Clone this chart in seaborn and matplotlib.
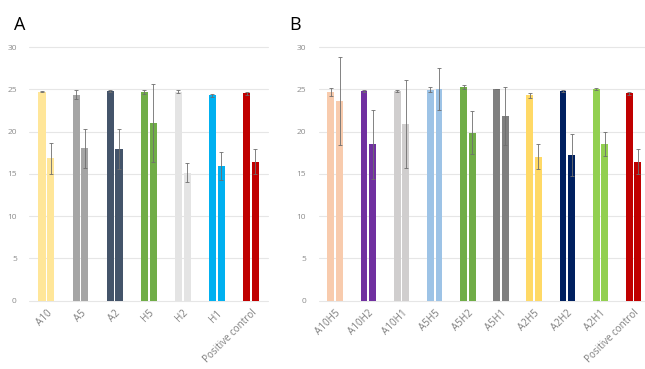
import numpy as np
import pandas as pd
import matplotlib
matplotlib.use("Agg")
import matplotlib.pyplot as plt
import seaborn as sns

# ---- data (two bars per group, mean +/- sd) ----
groups_a = ["A10", "A5", "A2", "H5", "H2", "H1", "Positive control"]
first_a = [24.75, 24.4, 24.85, 24.7, 24.75, 24.3, 24.55]
first_a_err = [0.1, 0.5, 0.1, 0.25, 0.15, 0.2, 0.15]
second_a = [16.85, 18.05, 17.95, 21.0, 15.15, 15.95, 16.45]
second_a_err = [1.85, 2.3, 2.4, 4.6, 1.1, 1.7, 1.5]
colors_a = ["#FFE699", "#A5A5A5", "#44546A", "#70AD47", "#E4E4E4", "#00B0F0", "#C00000"]

groups_b = ["A10H5", "A10H2", "A10H1", "A5H5", "A5H2", "A5H1", "A2H5", "A2H2", "A2H1",
            "Positive control"]
first_b = [24.7, 24.8, 24.8, 24.95, 25.25, 25.05, 24.3, 24.8, 25.05, 24.55]
first_b_err = [0.45, 0.1, 0.15, 0.3, 0.25, 0.05, 0.3, 0.15, 0.15, 0.15]
second_b = [23.65, 18.5, 20.95, 25.05, 19.9, 21.85, 17.05, 17.25, 18.55, 16.45]
second_b_err = [5.2, 4.1, 5.2, 2.45, 2.5, 3.4, 1.45, 2.45, 1.4, 1.5]
colors_b = ["#F8CBAD", "#7030A0", "#D0CECE", "#9DC3E6", "#70AD47", "#7F7F7F", "#FFD966",
            "#002060", "#92D050", "#C00000"]

sns.set_theme(style="white")
plt.rcParams["font.family"] = ["Open Sans", "DejaVu Sans"]

fig = plt.figure(figsize=(6.45, 3.69), dpi=100)
ax_a = fig.add_axes([0.0455, 0.185, 0.370, 0.687])
ax_b = fig.add_axes([0.494, 0.185, 0.514, 0.687])


def draw_panel(ax, groups, first, first_err, second, second_err, colors):
    df = pd.DataFrame({
        "group": groups * 2,
        "series": ["1"] * len(groups) + ["2"] * len(groups),
        "value": first + second,
        "err": first_err + second_err,
    })
    for v in range(0, 31, 5):
        ax.axhline(v, color="#E6E6E6", lw=0.8, zorder=0, clip_on=False)
    sns.barplot(data=df, x="group", y="value", hue="series", order=groups,
                hue_order=["1", "2"], dodge=True, width=0.52, gap=0.2,
                errorbar=None, legend=False, ax=ax, zorder=2)
    n = len(groups)
    # patches come out series by series, each in group order
    for i, p in enumerate(ax.patches[:2 * n]):
        p.set_facecolor(colors[i % n])
        p.set_edgecolor("none")
        xc = p.get_x() + p.get_width() / 2
        ax.errorbar(xc, p.get_height(), yerr=df["err"].iloc[i], color="#6E6E6E",
                    lw=0.6, capsize=1.6, capthick=0.6, zorder=3)
    ax.set_ylim(0, 30)
    ax.set_xlim(-0.5, n - 0.5)
    ax.set_yticks(range(0, 31, 5))
    ax.tick_params(axis="y", labelsize=6, labelcolor="#8C8C8C", length=0, pad=9)
    ax.tick_params(axis="x", labelsize=7.1, labelcolor="#808080", length=0, pad=5)
    ax.set_xticks(range(n))
    ax.set_xticklabels(groups, rotation=45, ha="right", rotation_mode="anchor")
    ax.set_xlabel("")
    ax.set_ylabel("")
    sns.despine(ax=ax, left=True, bottom=True)


draw_panel(ax_a, groups_a, first_a, first_a_err, second_a, second_a_err, colors_a)
draw_panel(ax_b, groups_b, first_b, first_b_err, second_b, second_b_err, colors_b)

fig.text(14 / 645, 1 - 30 / 369, "A", fontsize=13, color="black")
fig.text(289 / 645, 1 - 30 / 369, "B", fontsize=13, color="black")

fig.savefig("out.png", dpi=100)
